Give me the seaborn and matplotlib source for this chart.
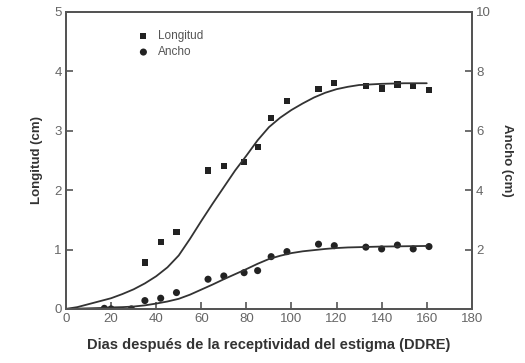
import numpy as np
import pandas as pd
import seaborn as sns
import matplotlib.pyplot as plt

# measured points (days after stigma receptivity)
dias_long = [35, 42, 49, 63, 70, 79, 85, 91, 98, 112, 119, 133, 140, 147, 154, 161]
longitud = [0.78, 1.13, 1.29, 2.33, 2.40, 2.47, 2.73, 3.21, 3.50, 3.70, 3.80, 3.76, 3.71, 3.78, 3.76, 3.69]

dias_ancho = [17, 20, 29, 35, 42, 49, 63, 70, 79, 85, 91, 98, 112, 119, 133, 140, 147, 154, 161]
ancho = [0.02, 0.0, 0.0, 0.28, 0.36, 0.55, 1.0, 1.11, 1.22, 1.29, 1.76, 1.93, 2.18, 2.13, 2.08, 2.02, 2.15, 2.02, 2.10]

# fitted curves
curva_x = [0, 5, 10, 15, 20, 25, 30, 35, 40, 45, 50, 55, 60, 65, 70, 75, 80, 85,
           90, 95, 100, 105, 110, 115, 120, 125, 130, 140, 150, 160]
curva_long = [0.0, 0.03, 0.08, 0.13, 0.18, 0.25, 0.33, 0.43, 0.55, 0.70, 0.90, 1.18,
              1.48, 1.77, 2.05, 2.33, 2.58, 2.84, 3.06, 3.22, 3.35, 3.46, 3.56, 3.64,
              3.70, 3.74, 3.77, 3.79, 3.80, 3.80]
curva_ancho = [0.0, 0.01, 0.02, 0.03, 0.05, 0.06, 0.08, 0.12, 0.18, 0.25, 0.34, 0.48,
               0.65, 0.82, 1.00, 1.17, 1.34, 1.52, 1.68, 1.79, 1.88, 1.94, 1.98, 2.02,
               2.05, 2.07, 2.08, 2.10, 2.11, 2.12]

sns.set_theme(style="white")
plt.rcParams['font.family'] = ['Liberation Sans', 'DejaVu Sans']

gris = '#555555'
fig = plt.figure(figsize=(5.25, 3.63), dpi=100)
ax1 = fig.add_axes([0.1257, 0.149, 0.773, 0.818])
ax2 = ax1.twinx()

sns.lineplot(x=curva_x, y=curva_long, color='#333333', lw=1.3, ax=ax1)
sns.lineplot(x=curva_x, y=curva_ancho, color='#333333', lw=1.3, ax=ax2)

sns.scatterplot(x=dias_long, y=longitud, marker='s', s=20, color='#222222',
                edgecolor='none', label='Longitud', ax=ax1, legend=False)
sns.scatterplot(x=dias_ancho, y=ancho, marker='o', s=26, color='#222222',
                edgecolor='none', label='Ancho', ax=ax2, legend=False)

ax1.set_xlim(0, 180)
ax1.set_ylim(0, 5)
ax2.set_ylim(0, 10)
ax1.set_xticks(range(0, 181, 20))
ax1.set_yticks(range(0, 6))
ax2.set_yticks([2, 4, 6, 8, 10])

for ax in (ax1, ax2):
    for s in ax.spines.values():
        s.set_color(gris)
        s.set_linewidth(1.4)
    ax.tick_params(direction='in', length=5, width=1.2, color=gris,
                   labelcolor='#666666', labelsize=9.5, pad=3)
ax1.tick_params(top=False, right=False, left=True, bottom=True)
ax2.tick_params(right=True)

ax1.set_xlabel('Dias después de la receptividad del estigma (DDRE)',
               fontsize=10.5, fontweight='bold', color='#333333', labelpad=9)
ax1.set_ylabel('Longitud (cm)', fontsize=9.5, fontweight='bold', color='#333333', labelpad=8)
ax2.set_ylabel('Ancho (cm)', fontsize=9.5, fontweight='bold', color='#333333',
               rotation=-90, labelpad=16)

h1, l1 = ax1.get_legend_handles_labels()
h2, l2 = ax2.get_legend_handles_labels()
ax1.legend(h1 + h2, l1 + l2, loc='upper left', bbox_to_anchor=(0.15, 0.975),
           frameon=False, fontsize=8.5, handletextpad=0.7, labelspacing=0.35,
           handlelength=1.0, labelcolor='#555555')

plt.savefig('out.png', dpi=100)
